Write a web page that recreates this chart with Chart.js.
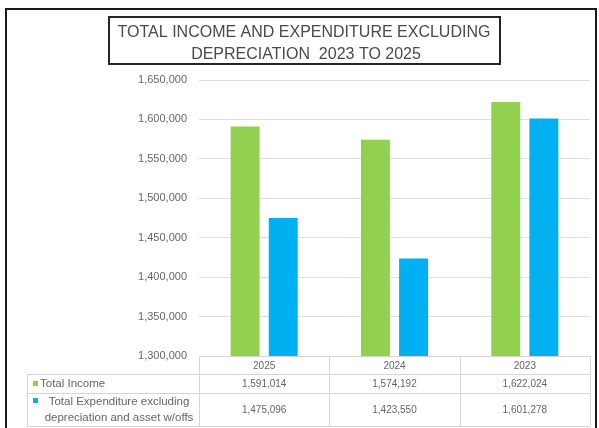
<!DOCTYPE html>
<html>
<head>
<meta charset="utf-8">
<script src="https://cdn.jsdelivr.net/npm/chart.js@4/dist/chart.umd.min.js"></script>
<style>
  html, body { margin: 0; padding: 0; background: #ffffff; }
  #wrap { position: relative; width: 599px; height: 428px; }
</style>
</head>
<body>
<div id="wrap"><canvas id="c" width="599" height="428"></canvas></div>
<script>
const titleLines = ["TOTAL INCOME AND EXPENDITURE EXCLUDING", "DEPRECIATION  2023 TO 2025"];
const categories = ["2025", "2024", "2023"];
const incomeLabel = "Total Income";
const expenditureLabel = ["Total Expenditure excluding", "depreciation and asset w/offs"];
const incomeValues = [1591014, 1574192, 1622024];
const expenditureValues = [1475096, 1423550, 1601278];
const yMin = 1300000, yMax = 1650000, yStep = 50000;

const GREEN = '#92D050', BLUE = '#00B0F0';
const TEXT = '#666666';
const FONT = '"Liberation Sans", Arial, sans-serif';
const fmt = v => Number(v).toLocaleString('en-US');

const decorPlugin = {
  id: 'decor',
  beforeDraw(chart) {
    const ctx = chart.ctx;
    ctx.save();
    ctx.fillStyle = '#ffffff';
    ctx.fillRect(0, 0, chart.width, chart.height);
    // outer frame
    ctx.strokeStyle = '#1a1a1a';
    ctx.lineWidth = 2;
    ctx.strokeRect(6, 9, 590, 440);
    // title box
    ctx.lineWidth = 2;
    ctx.strokeStyle = '#262626';
    ctx.strokeRect(109, 17, 391, 47);
    ctx.fillStyle = '#4a4a4a';
    ctx.font = '16px ' + FONT;
    ctx.textAlign = 'center';
    ctx.textBaseline = 'alphabetic';
    ctx.fillText(titleLines[0], 304, 37);
    ctx.fillText(titleLines[1], 306, 59);
    ctx.restore();
  },
  afterDraw(chart) {
    const ctx = chart.ctx;
    const area = chart.chartArea;
    const n = categories.length;
    const cw = (area.right - area.left) / n;
    const colX = [];
    for (let i = 0; i <= n; i++) colX.push(area.left + i * cw);
    const tLeft = 27;
    const rTop = area.bottom, rHead = 374, r1 = 393, rBot = 426;
    ctx.save();
    ctx.strokeStyle = '#d4d4d4';
    ctx.lineWidth = 1;
    const line = (x1, y1, x2, y2) => { ctx.beginPath(); ctx.moveTo(x1, y1); ctx.lineTo(x2, y2); ctx.stroke(); };
    line(area.left, rTop + 0.5, area.right, rTop + 0.5);
    line(tLeft, rHead + 0.5, area.right, rHead + 0.5);
    line(tLeft, r1 + 0.5, area.right, r1 + 0.5);
    line(tLeft, rBot + 0.5, area.right, rBot + 0.5);
    line(tLeft + 0.5, rHead, tLeft + 0.5, rBot);
    colX.forEach(x => line(Math.round(x) + 0.5, rTop, Math.round(x) + 0.5, rBot));
    ctx.fillStyle = TEXT;
    ctx.font = '10px ' + FONT;
    ctx.textAlign = 'center';
    ctx.textBaseline = 'middle';
    for (let i = 0; i < n; i++) {
      const cx = colX[i] + cw / 2;
      ctx.fillText(categories[i], cx, (rTop + rHead) / 2 + 1);
      ctx.fillText(fmt(incomeValues[i]), cx, (rHead + r1) / 2 + 1);
      ctx.fillText(fmt(expenditureValues[i]), cx, (r1 + rBot) / 2 + 1);
    }
    ctx.fillStyle = GREEN;
    ctx.fillRect(33, 381, 5, 5);
    ctx.fillStyle = BLUE;
    ctx.fillRect(33, 398, 5, 5);
    ctx.fillStyle = TEXT;
    ctx.font = '11.5px ' + FONT;
    ctx.textAlign = 'left';
    ctx.fillText(incomeLabel, 40, 384);
    ctx.textAlign = 'center';
    ctx.fillText(expenditureLabel[0], 119, 402);
    ctx.fillText(expenditureLabel[1], 119, 418);
    ctx.restore();
  }
};

new Chart(document.getElementById('c'), {
  type: 'bar',
  data: {
    labels: categories,
    datasets: [
      { label: incomeLabel, data: incomeValues, backgroundColor: GREEN, borderWidth: 0 },
      { label: expenditureLabel.join(' '), data: expenditureValues, backgroundColor: BLUE, borderWidth: 0 }
    ]
  },
  options: {
    responsive: false,
    animation: false,
    devicePixelRatio: 1,
    layout: { padding: { left: 0, right: 9, top: 80, bottom: 72 } },
    datasets: { bar: { categoryPercentage: 0.585, barPercentage: 0.76 } },
    plugins: { legend: { display: false }, title: { display: false }, tooltip: { enabled: false } },
    scales: {
      x: { display: false },
      y: {
        min: yMin, max: yMax,
        border: { display: false },
        grid: { color: '#dedede', drawTicks: false, lineWidth: 1 },
        ticks: {
          stepSize: yStep,
          padding: 12,
          color: TEXT,
          font: { family: FONT, size: 11 },
          callback: v => fmt(v)
        },
        afterFit(scale) { scale.width = 199; }
      }
    }
  },
  plugins: [decorPlugin]
});
</script>
</body>
</html>
